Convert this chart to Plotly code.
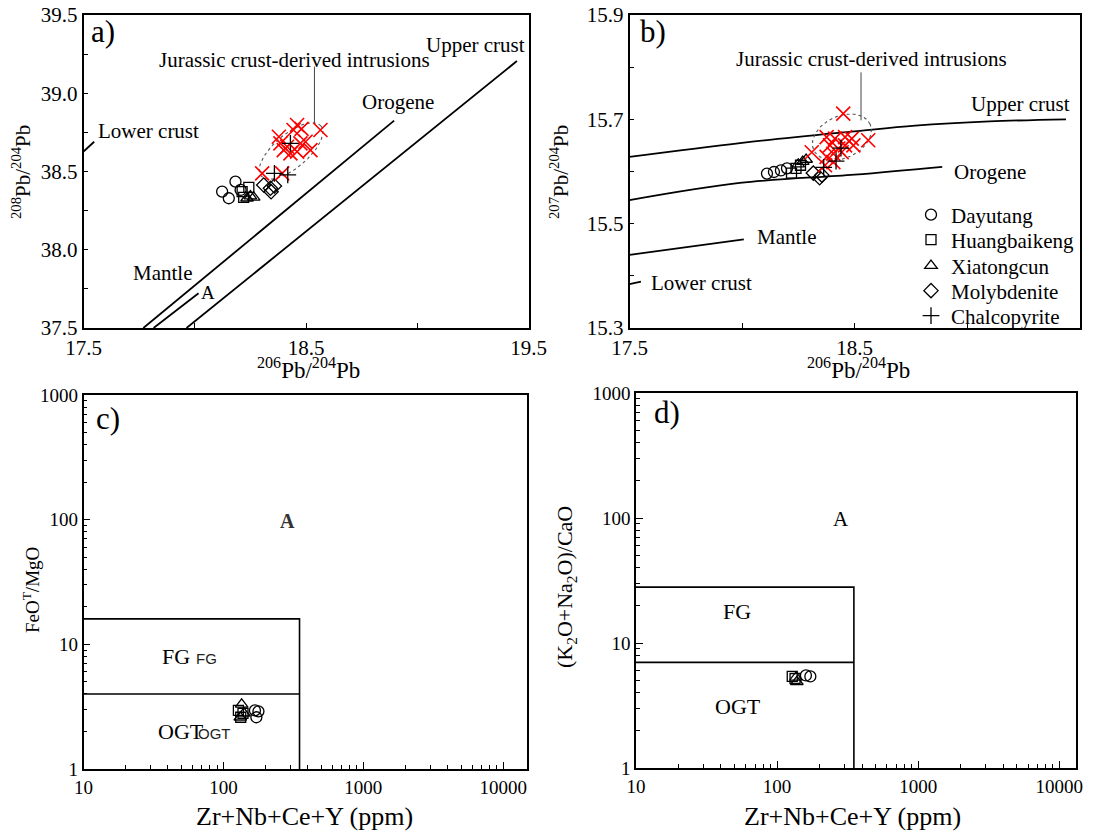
import numpy as np
import plotly.graph_objects as go

W, H = 1096, 832
SERIF = "Liberation Serif, Times New Roman, serif"
SANS = "Liberation Sans, Arial, sans-serif"

# ---------------- Panel a : 206Pb/204Pb vs 208Pb/204Pb ----------------
a_day_x = [18.123, 18.183, 18.153, 18.206]
a_day_y = [38.371, 38.435, 38.329, 38.382]
a_hbk_x = [18.213, 18.243, 18.220]
a_hbk_y = [38.371, 38.399, 38.335]
a_xtc_x = [18.250, 18.265, 18.235]
a_xtc_y = [38.343, 38.335, 38.329]
a_mol_x = [18.310, 18.340, 18.358, 18.343]
a_mol_y = [38.414, 38.393, 38.407, 38.371]
a_ccp_x = [18.358, 18.418, 18.430]
a_ccp_y = [38.488, 38.478, 38.680]
a_jur_x = [18.378, 18.460, 18.480, 18.565, 18.385, 18.415, 18.475, 18.498,
           18.400, 18.430, 18.460, 18.520, 18.303, 18.393, 18.444]
a_jur_y = [38.722, 38.797, 38.772, 38.765, 38.680, 38.658, 38.680, 38.690,
           38.637, 38.616, 38.627, 38.637, 38.488, 38.488, 38.765]

a_upper_x = [17.963, 19.448]
a_upper_y = [37.500, 39.206]
a_orogene_x = [17.769, 18.896]
a_orogene_y = [37.500, 38.825]
a_mantle_x = [17.815, 18.017]
a_mantle_y = [37.500, 37.722]
a_lower_x = [17.500, 17.548]
a_lower_y = [38.627, 38.690]

# ---------------- Panel b : 206Pb/204Pb vs 207Pb/204Pb ----------------
b_day_x = [18.111, 18.142, 18.173, 18.200]
b_day_y = [15.596, 15.599, 15.602, 15.606]
b_hbk_x = [18.220, 18.240, 18.260]
b_hbk_y = [15.597, 15.606, 15.612]
b_xtc_x = [18.250, 18.270, 18.285]
b_xtc_y = [15.614, 15.619, 15.623]
b_mol_x = [18.317, 18.345, 18.355]
b_mol_y = [15.597, 15.588, 15.593]
b_ccp_x = [18.363, 18.418, 18.440]
b_ccp_y = [15.608, 15.620, 15.645]
b_jur_x = [18.450, 18.376, 18.413, 18.458, 18.488, 18.561, 18.391, 18.428,
           18.458, 18.495, 18.310, 18.376, 18.406, 18.443, 18.406, 18.369]
b_jur_y = [15.711, 15.666, 15.663, 15.666, 15.663, 15.660, 15.650, 15.644,
           15.650, 15.650, 15.637, 15.628, 15.634, 15.637, 15.618, 15.612]

b_upper_x = [17.50, 18.00, 18.50, 18.77, 19.10, 19.44]
b_upper_y = [15.628, 15.655, 15.677, 15.688, 15.696, 15.700]
b_orogene_x = [17.50, 17.99, 18.50, 18.89]
b_orogene_y = [15.545, 15.578, 15.594, 15.609]
b_mantle_x = [17.50, 18.008]
b_mantle_y = [15.440, 15.470]
b_lower_x = [17.50, 17.551]
b_lower_y = [15.384, 15.389]

# ---------------- Panel c : Zr+Nb+Ce+Y vs FeOT/MgO ----------------
c_day_x = [168, 172, 178]
c_day_y = [2.95, 2.60, 2.90]
c_hbk_x = [128, 133, 138]
c_hbk_y = [2.95, 2.60, 2.80]
c_xtc_x = [135, 140, 132]
c_xtc_y = [3.30, 2.80, 2.60]
c_fg_top = 16
c_ogt_top = 4
c_zr_lim = 350

# ---------------- Panel d : Zr+Nb+Ce+Y vs (K2O+Na2O)/CaO ----------------
d_day_x = [160, 172]
d_day_y = [5.50, 5.40]
d_hbk_x = [128, 134]
d_hbk_y = [5.40, 5.20]
d_xtc_x = [136, 138]
d_xtc_y = [5.30, 4.90]
d_fg_top = 28
d_ogt_top = 7
d_zr_lim = 350

sites = ["Dayutang", "Huangbaikeng", "Xiatongcun", "Molybdenite", "Chalcopyrite"]
symbols = ["circle-open", "square-open", "triangle-up-open", "diamond-open", "cross-thin-open"]
sizes = [11, 10, 11, 11, 12]
legend_ids = ["legend", "legend2", "legend3", "legend4", "legend5"]
legend_py = [215, 240, 266, 291, 316]


def dom_x(x0, x1):
    return [x0 / W, x1 / W]


def dom_y(y0, y1):
    return [1 - y1 / H, 1 - y0 / H]


fig = go.Figure()


def add_pts(xs, ys, k, xa, ya, legend=False):
    fig.add_trace(go.Scatter(
        x=xs, y=ys, mode="markers", name=sites[k], legendgroup=sites[k],
        legend=legend_ids[k], showlegend=legend, xaxis=xa, yaxis=ya,
        marker=dict(symbol=symbols[k], size=sizes[k], color="black",
                    line=dict(color="black", width=1.3))))


def add_line(xs, ys, xa, ya, width=1.8, color="black", dash="solid", shape="linear"):
    fig.add_trace(go.Scatter(x=xs, y=ys, mode="lines", showlegend=False,
                             xaxis=xa, yaxis=ya, hoverinfo="skip",
                             line=dict(color=color, width=width, dash=dash, shape=shape)))


def add_jur(xs, ys, xa, ya):
    fig.add_trace(go.Scatter(x=xs, y=ys, mode="markers", showlegend=False,
                             xaxis=xa, yaxis=ya,
                             marker=dict(symbol="x-thin-open", size=14, color="red",
                                         line=dict(color="red", width=1.6))))


def ellipse(cx, cy, a_px, b_px, ang_deg, ux, uy, n=120):
    t = np.linspace(0, 2 * np.pi, n)
    th = np.radians(ang_deg)
    dx = a_px * np.cos(t) * np.cos(th) - b_px * np.sin(t) * np.sin(th)
    dy = a_px * np.cos(t) * np.sin(th) + b_px * np.sin(t) * np.cos(th)
    return cx + dx / ux, cy + dy / uy


a_sets = [(a_day_x, a_day_y), (a_hbk_x, a_hbk_y), (a_xtc_x, a_xtc_y),
          (a_mol_x, a_mol_y), (a_ccp_x, a_ccp_y)]
b_sets = [(b_day_x, b_day_y), (b_hbk_x, b_hbk_y), (b_xtc_x, b_xtc_y),
          (b_mol_x, b_mol_y), (b_ccp_x, b_ccp_y)]

# ---- panel a
add_line(a_upper_x, a_upper_y, "x", "y")
add_line(a_orogene_x, a_orogene_y, "x", "y")
add_line(a_mantle_x, a_mantle_y, "x", "y")
add_line(a_lower_x, a_lower_y, "x", "y")
ex, ey = ellipse(18.433, 38.631, 39, 17, 40, 222.5, 156.5)
add_line(ex, ey, "x", "y", width=1.1, color="#555", dash="dot")
add_line([18.538, 18.538], [39.17, 38.80], "x", "y", width=1.0, color="#444")
for k, (xs, ys) in enumerate(a_sets[:4]):
    add_pts(xs, ys, k, "x", "y")
add_jur(a_jur_x, a_jur_y, "x", "y")
add_pts(a_ccp_x, a_ccp_y, 4, "x", "y")

# ---- panel b
add_line(b_upper_x, b_upper_y, "x2", "y2", shape="spline")
add_line(b_orogene_x, b_orogene_y, "x2", "y2", shape="spline")
add_line(b_mantle_x, b_mantle_y, "x2", "y2")
add_line(b_lower_x, b_lower_y, "x2", "y2")
ex, ey = ellipse(18.444, 15.666, 31, 21, 25, 225, 522.5)
add_line(ex, ey, "x2", "y2", width=1.1, color="#555", dash="dot")
add_line([18.529, 18.529], [15.79, 15.698], "x2", "y2", width=1.0, color="#444")
for k, (xs, ys) in enumerate(b_sets[:4]):
    add_pts(xs, ys, k, "x2", "y2", legend=True)
add_jur(b_jur_x, b_jur_y, "x2", "y2")
add_pts(b_ccp_x, b_ccp_y, 4, "x2", "y2", legend=True)

# ---- panel c
add_line([10, c_zr_lim, c_zr_lim], [c_fg_top, c_fg_top, 1], "x3", "y3", width=1.6)
add_line([10, c_zr_lim], [c_ogt_top, c_ogt_top], "x3", "y3", width=1.6)
for k, (xs, ys) in enumerate([(c_day_x, c_day_y), (c_hbk_x, c_hbk_y), (c_xtc_x, c_xtc_y)]):
    add_pts(xs, ys, k, "x3", "y3")

# ---- panel d
add_line([10, d_zr_lim, d_zr_lim], [d_fg_top, d_fg_top, 1], "x4", "y4", width=1.6)
add_line([10, d_zr_lim], [d_ogt_top, d_ogt_top], "x4", "y4", width=1.6)
for k, (xs, ys) in enumerate([(d_day_x, d_day_y), (d_hbk_x, d_hbk_y), (d_xtc_x, d_xtc_y)]):
    add_pts(xs, ys, k, "x4", "y4")

# ---------------- axes ----------------
tickfont = dict(family=SERIF, size=21, color="black")
tickfont_log = dict(family=SERIF, size=19, color="black")


def lin_axis(dom, rng, tv, minor_dt, anchor):
    return dict(domain=dom, range=rng, tickvals=tv, ticktext=[f"{v:.1f}" for v in tv],
                ticks="inside", ticklen=5, tickwidth=1.3, tickcolor="black",
                showline=True, linecolor="black", linewidth=1.6, mirror=True,
                showgrid=False, zeroline=False, tickfont=tickfont, anchor=anchor,
                automargin=False,
                minor=dict(dtick=minor_dt, ticks="inside", ticklen=5, tickwidth=1.3,
                           tickcolor="black", showgrid=False))


def log_minor(lo, hi):
    vals = []
    for d in range(lo, hi):
        for m in range(2, 10):
            vals.append(m * 10 ** d)
    return vals


def log_axis(dom, rng, tv, anchor, lo, hi):
    return dict(domain=dom, type="log", range=rng, tickvals=tv, ticktext=[str(v) for v in tv],
                ticks="inside", ticklen=7, tickwidth=1.3, tickcolor="black",
                showline=True, linecolor="black", linewidth=1.6, mirror=True,
                showgrid=False, zeroline=False, tickfont=tickfont_log, anchor=anchor,
                automargin=False,
                minor=dict(tickvals=log_minor(lo, hi), ticks="inside", ticklen=4,
                           tickwidth=1.1, tickcolor="black", showgrid=False))


layout = dict(
    width=W, height=H, autosize=False,
    margin=dict(l=0, r=0, t=0, b=0),
    paper_bgcolor="white", plot_bgcolor="white",
    font=dict(family=SERIF, color="black"),
    xaxis=lin_axis(dom_x(83.5, 528.5), [17.5, 19.5], [17.5, 18.5, 19.5], 0.5, "y"),
    yaxis=lin_axis(dom_y(15, 328), [37.5, 39.5], [37.5, 38.0, 38.5, 39.0, 39.5], 0.25, "x"),
    xaxis2=lin_axis(dom_x(629.5, 1079.5), [17.5, 19.5], [17.5, 18.5, 19.5], 0.5, "y2"),
    yaxis2=lin_axis(dom_y(15, 328), [15.3, 15.9], [15.3, 15.5, 15.7, 15.9], 0.1, "x2"),
    xaxis3=log_axis(dom_x(83.5, 527), [1, 4.17], [10, 100, 1000, 10000], "y3", 1, 5),
    yaxis3=log_axis(dom_y(395, 769), [0, 3], [1, 10, 100, 1000], "x3", 0, 3),
    xaxis4=log_axis(dom_x(636, 1076), [1, 4.118], [10, 100, 1000, 10000], "y4", 1, 5),
    yaxis4=log_axis(dom_y(393, 768), [0, 3], [1, 10, 100, 1000], "x4", 0, 3),
)
for lid, py in zip(legend_ids, legend_py):
    layout[lid] = dict(x=911 / W, y=1 - py / H, xanchor="left", yanchor="middle",
                       font=dict(family=SERIF, size=21, color="black"),
                       bgcolor="rgba(0,0,0,0)", itemsizing="trace")
fig.update_layout(**layout)

ann = []


def txt(text, x, y, xref, yref, size=21, family=SERIF, angle=0, color="black", xanchor="center"):
    ann.append(dict(text=text, x=x, y=y, xref=xref, yref=yref, showarrow=False,
                    font=dict(family=family, size=size, color=color),
                    textangle=angle, xanchor=xanchor, yanchor="middle"))


def ptxt(text, px, py, **kw):
    txt(text, px / W, 1 - py / H, "paper", "paper", **kw)


# panel labels
ptxt("a)", 103, 32, size=31)
ptxt("b)", 653, 32, size=31)
ptxt("c)", 108, 418, size=31)
ptxt("d)", 667, 412, size=31)

# axis titles
ptxt("<sup>206</sup>Pb/<sup>204</sup>Pb", 308, 368, size=23)
ptxt("<sup>208</sup>Pb/<sup>204</sup>Pb", 22, 172, size=21, angle=-90)
ptxt("<sup>206</sup>Pb/<sup>204</sup>Pb", 858, 368, size=23)
ptxt("<sup>207</sup>Pb/<sup>204</sup>Pb", 560, 172, size=21, angle=-90)
ptxt("Zr+Nb+Ce+Y (ppm)", 304, 816, size=26)
ptxt("FeO<sup>T</sup>/MgO", 31, 590, size=19, angle=-90)
ptxt("Zr+Nb+Ce+Y (ppm)", 852, 816, size=26)
ptxt("(K<sub>2</sub>O+Na<sub>2</sub>O)/CaO", 566, 587, size=22, angle=-90)

# panel a labels
txt("Upper crust", 19.264, 39.308, "x", "y")
txt("Jurassic crust-derived intrusions", 18.448, 39.212, "x", "y")
txt("Orogene", 18.912, 38.944, "x", "y")
txt("Lower crust", 17.79, 38.759, "x", "y")
txt("Mantle", 17.853, 37.853, "x", "y")
txt("A", 18.06, 37.726, "x", "y", size=19)

# panel b labels
txt("Jurassic crust-derived intrusions", 18.576, 15.816, "x2", "y2")
txt("Upper crust", 19.238, 15.729, "x2", "y2")
txt("Orogene", 19.104, 15.600, "x2", "y2")
txt("Mantle", 18.198, 15.474, "x2", "y2")
txt("Lower crust", 17.819, 15.386, "x2", "y2")

# panel c labels (log axes: annotation positions in log10 units)
lg = np.log10
txt("<b>A</b>", lg(287), lg(97), "x3", "y3", size=20, color="#333")
txt("FG", lg(45.5), lg(8.0), "x3", "y3", size=22)
txt("FG", lg(76), lg(7.7), "x3", "y3", size=15, family=SANS, color="#222")
txt("OGT", lg(49.6), lg(2.0), "x3", "y3", size=22)
txt("OGT", lg(86), lg(1.94), "x3", "y3", size=15, family=SANS, color="#222")

# panel d labels
txt("A", lg(284), lg(99), "x4", "y4", size=21)
txt("FG", lg(52), lg(17.8), "x4", "y4", size=22)
txt("OGT", lg(53), lg(3.1), "x4", "y4", size=22)

fig.update_layout(annotations=ann)
# remove the default 8px page margin so the figure sits at the window origin
fig.write_html("out.html", config={"displayModeBar": False},
               post_script="document.body.style.margin='0px';document.body.style.overflow='hidden';")
